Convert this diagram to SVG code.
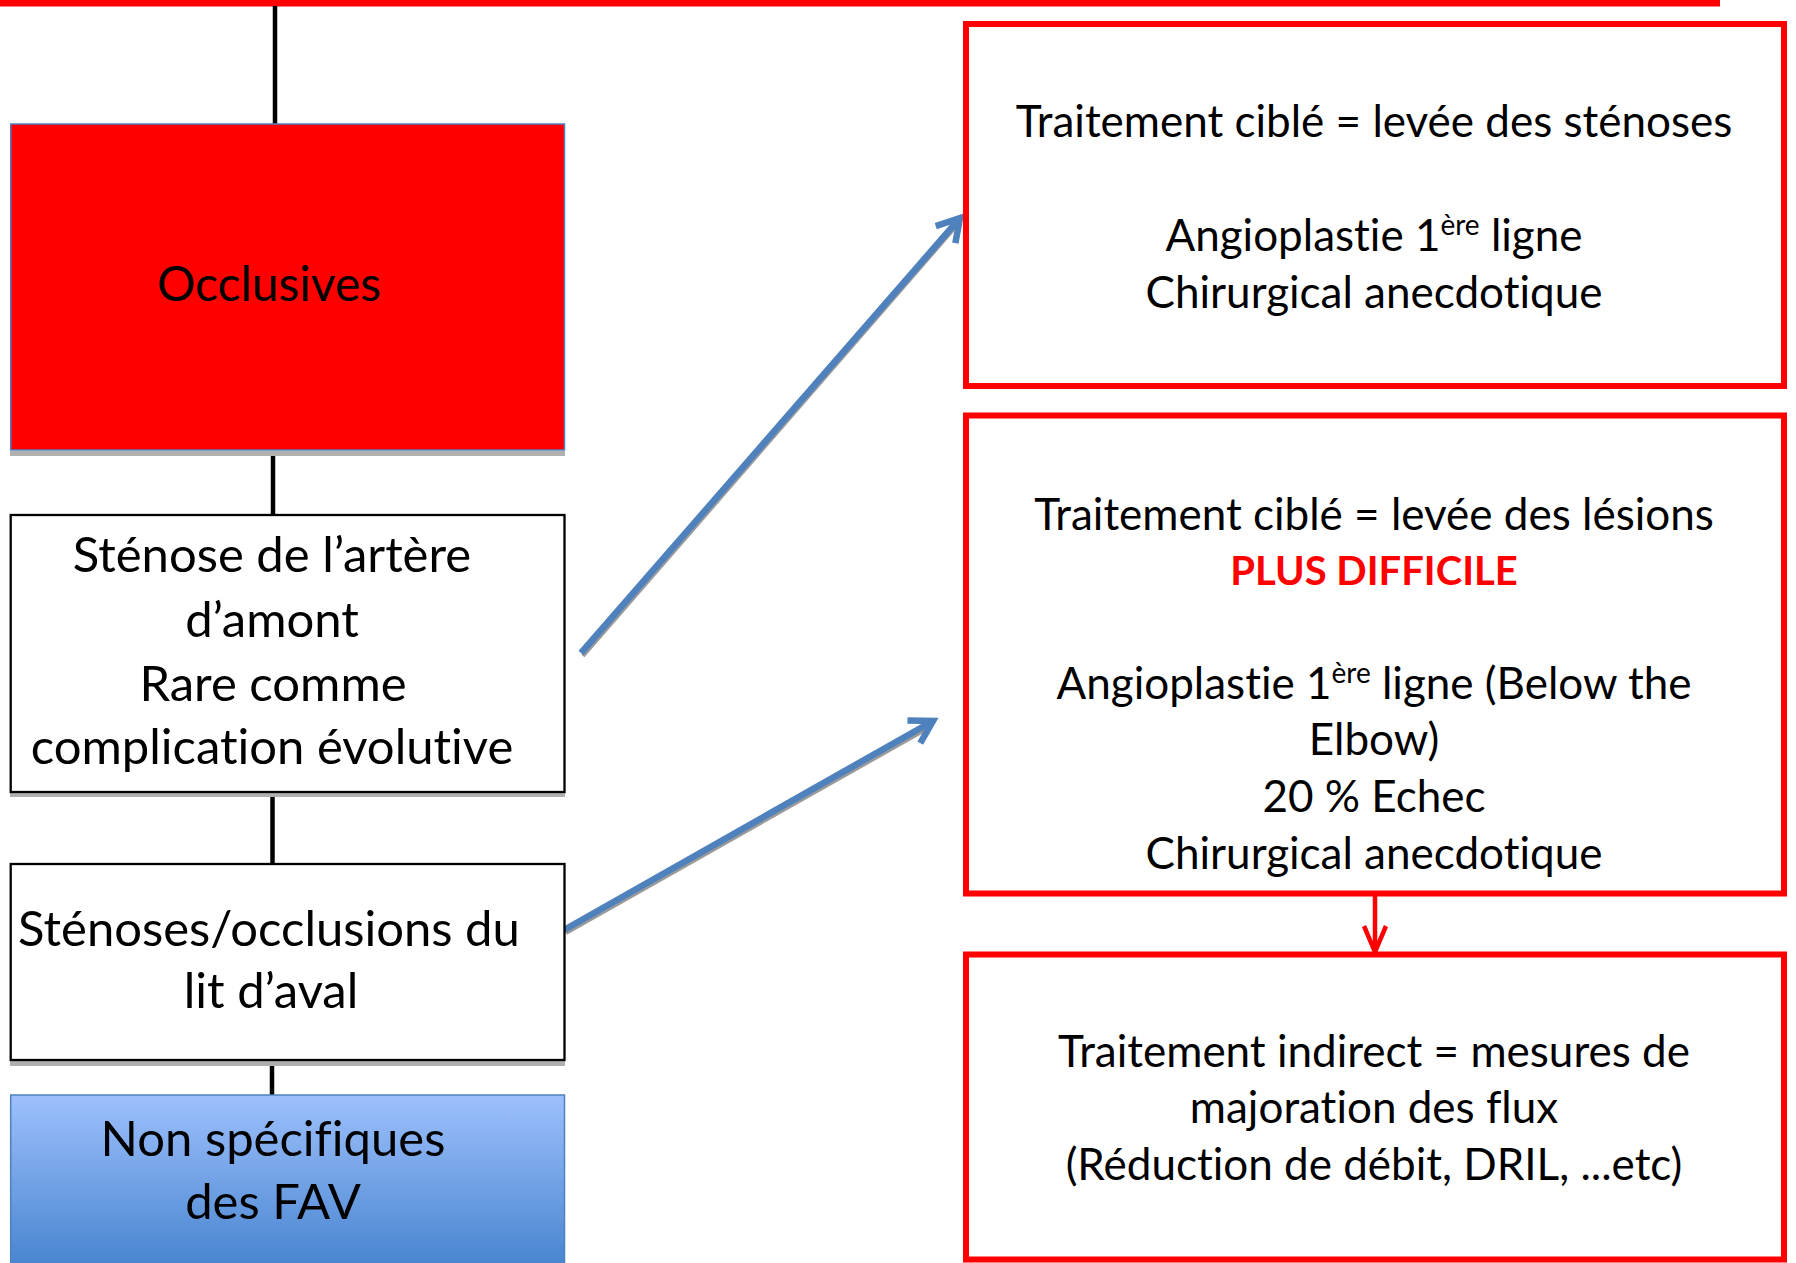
<svg xmlns="http://www.w3.org/2000/svg" width="1796" height="1263" viewBox="0 0 1796 1263">
<style>
  text { font-family: Lato, "Liberation Sans", sans-serif; fill: #000; text-anchor: middle; font-variant-ligatures: none; font-feature-settings: "liga" 0, "clig" 0, "dlig" 0; }
  .lt { font-size: 49px; }
  .rt { font-size: 44px; }
  .sup { font-size: 28px; }
  .bold { font-weight: bold; fill: #FF0000; font-size: 40px; }
  .rbox { fill: #FFFFFF; stroke: #FF0000; stroke-width: 6; }
  .wbox { fill: #FFFFFF; stroke: #000000; stroke-width: 2.3; }
  .shadow { fill: #b0b0b0; }
  .vline { stroke: #000000; stroke-width: 4.5; fill: none; }
  .barrow { stroke: #4F81BD; stroke-width: 6.5; fill: none; }
  .bshadow { stroke: #9a9a9a; stroke-width: 4; fill: none; }
  .rarrow { stroke: #FF0000; stroke-width: 4.5; fill: none; }
</style>
<defs>
  <linearGradient id="blueGrad" x1="0" y1="0" x2="0" y2="1">
    <stop offset="0" stop-color="#9DC0FC"/>
    <stop offset="1" stop-color="#3F7ECB"/>
  </linearGradient>
  <marker id="blueHead" markerUnits="userSpaceOnUse" markerWidth="60" markerHeight="60" refX="0" refY="0" orient="auto" overflow="visible">
    <path d="M -22 -13 L 0 0 L -22 13" fill="none" stroke="#4F81BD" stroke-width="6.5" stroke-linejoin="miter"/>
  </marker>
  <marker id="redHead" markerUnits="userSpaceOnUse" markerWidth="60" markerHeight="60" refX="0" refY="0" orient="auto" overflow="visible">
    <path d="M -26 -11 L 0 0 L -26 11" fill="none" stroke="#FF0000" stroke-width="4.5" stroke-linejoin="miter"/>
  </marker>
</defs>

<rect width="1796" height="1263" fill="#FFFFFF"/>

<g id="top-bar">
  <rect x="0" y="0" width="1720" height="6.5" fill="#FF0000"/>
</g>

<g id="connectors">
  <line class="vline" x1="275" y1="6" x2="275" y2="124"/>
  <line class="vline" x1="273" y1="456" x2="273" y2="515"/>
  <line class="vline" x1="272.5" y1="797" x2="272.5" y2="864"/>
  <line class="vline" x1="272" y1="1066" x2="272" y2="1095"/>
  <line class="bshadow" x1="583" y1="656" x2="958" y2="224"/>
  <line class="barrow" x1="581" y1="653" x2="960" y2="218" marker-end="url(#blueHead)"/>
  <line class="bshadow" x1="566" y1="933" x2="930" y2="727"/>
  <line class="barrow" x1="564" y1="930" x2="933" y2="721" marker-end="url(#blueHead)"/>
  <line class="rarrow" x1="1375" y1="895" x2="1375" y2="952" marker-end="url(#redHead)"/>
</g>

<g id="node-occlusives">
  <rect class="shadow" x="10" y="451" width="555" height="5"/>
  <rect x="10.7" y="124" width="553.8" height="326" fill="#FF0000" stroke="#4F81BD" stroke-width="1.5"/>
  <text x="269" y="301" style="font-size:48px">Occlusives</text>
</g>

<g id="node-stenose-amont">
  <rect class="shadow" x="10" y="792" width="555" height="5"/>
  <rect class="wbox" x="10.7" y="515" width="553.8" height="277"/>
  <text class="lt" x="272" y="572">Sténose de l’artère</text>
  <text class="lt" x="272" y="637">d’amont</text>
  <text class="lt" x="273" y="701">Rare comme</text>
  <text class="lt" x="272" y="764">complication évolutive</text>
</g>

<g id="node-stenose-aval">
  <rect class="shadow" x="10" y="1061" width="555" height="5"/>
  <rect class="wbox" x="10.7" y="864" width="553.8" height="196"/>
  <text class="lt" x="269" y="946">Sténoses/occlusions du</text>
  <text class="lt" x="271" y="1008">lit d’aval</text>
</g>

<g id="node-non-specifiques">
  <rect x="10.7" y="1095" width="553.8" height="190" fill="url(#blueGrad)" stroke="#4F81BD" stroke-width="1.5"/>
  <text class="lt" x="273" y="1156">Non spécifiques</text>
  <text class="lt" x="273" y="1219">des FAV</text>
</g>

<g id="node-traitement-stenoses">
  <rect class="rbox" x="966" y="24" width="818" height="362"/>
  <text class="rt" x="1374" y="137">Traitement ciblé = levée des sténoses</text>
  <text class="rt" x="1374" y="251">Angioplastie 1<tspan class="sup" dy="-16">ère</tspan><tspan dy="16"> ligne</tspan></text>
  <text class="rt" x="1374" y="308">Chirurgical anecdotique</text>
</g>

<g id="node-traitement-lesions">
  <rect class="rbox" x="966" y="415.5" width="818" height="478"/>
  <text class="rt" x="1374" y="530">Traitement ciblé = levée des lésions</text>
  <text class="bold" x="1374" y="585">PLUS DIFFICILE</text>
  <text class="rt" x="1374" y="699">Angioplastie 1<tspan class="sup" dy="-16">ère</tspan><tspan dy="16"> ligne (Below the</tspan></text>
  <text class="rt" x="1374" y="755">Elbow)</text>
  <text class="rt" x="1374" y="812">20 % Echec</text>
  <text class="rt" x="1374" y="869">Chirurgical anecdotique</text>
</g>

<g id="node-traitement-indirect">
  <rect class="rbox" x="966" y="954.5" width="818" height="305"/>
  <text class="rt" x="1374" y="1067">Traitement indirect = mesures de</text>
  <text class="rt" x="1374" y="1123">majoration des flux</text>
  <text class="rt" x="1374" y="1180">(Réduction de débit, DRIL, ...etc)</text>
</g>
</svg>
